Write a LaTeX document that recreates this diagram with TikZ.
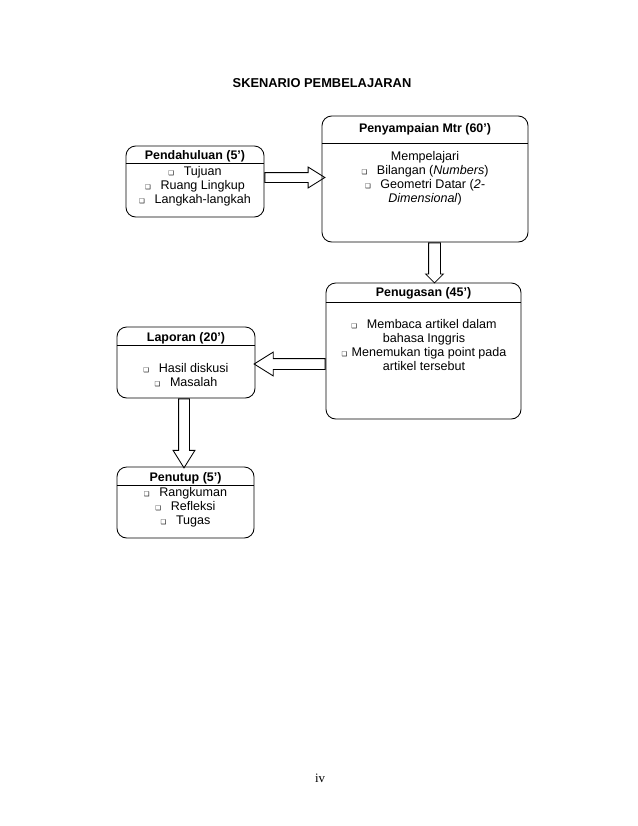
\documentclass[tikz,border=0pt]{standalone}
\usepackage{fontspec}
\setmainfont{Liberation Sans}
\newfontfamily\pagefont{Liberation Serif}
\newfontfamily\bulfont{DejaVu Sans}
\usetikzlibrary{shapes.arrows, calc, positioning}

\newcommand{\pu}{0.933pt}
\newcommand{\bul}{{\bulfont\fontsize{6}{6}\selectfont ❑}\hspace{9pt}}

\begin{document}
\begin{tikzpicture}[%
	x=\pu, y=\pu,
	every node/.style={font=\fontsize{11.7}{13}\selectfont},
	]
	% -------------------------------------------------
	% Box and arrow styles
	\tikzset{
		box/.style={draw, rounded corners=9pt, line width=0.8pt, inner sep=0pt},
		head/.style={font=\fontsize{11.6}{13}\selectfont\bfseries, inner sep=0pt},
		body/.style={align=center, inner sep=0pt},
		sep/.style={line width=0.8pt},
		barrow/.style={draw, single arrow, line width=0.8pt, inner sep=0pt,
			anchor=tail, single arrow tip angle=64},
	}
	\useasboundingbox (0,0) rectangle (638,-826);

	\node[font=\fontsize{12}{14}\selectfont\bfseries] (title) at (322,-83) {SKENARIO PEMBELAJARAN};

	% ------------------------------------------------- boxes
	\node[box, minimum width=138*\pu, minimum height=71*\pu]  (pend) at (195,-181.5) {};
	\node[box, minimum width=206*\pu, minimum height=126*\pu] (peny) at (425,-179) {};
	\node[box, minimum width=195*\pu, minimum height=136*\pu] (penu) at (423.5,-351) {};
	\node[box, minimum width=138*\pu, minimum height=71*\pu]  (lapo) at (186,-362.5) {};
	\node[box, minimum width=137*\pu, minimum height=71*\pu]  (penp) at (185.5,-502.5) {};

	\draw[sep] (pend.west |- 0,-163) -- (pend.east |- 0,-163);
	\draw[sep] (peny.west |- 0,-143) -- (peny.east |- 0,-143);
	\draw[sep] (penu.west |- 0,-302) -- (penu.east |- 0,-302);
	\draw[sep] (lapo.west |- 0,-345) -- (lapo.east |- 0,-345);
	\draw[sep] (penp.west |- 0,-485) -- (penp.east |- 0,-485);

	% ------------------------------------------------- texts
	\node[head] (pendh) at (195,-156) {Pendahuluan (5')};
	\node[body] (pendb) at (195,-186) {\bul Tujuan\\ \bul Ruang Lingkup\\ \bul Langkah-langkah};

	\node[head] (penyh) at (425,-129) {Penyampaian Mtr (60')};
	\node[body] (penyb) at (425,-178) {Mempelajari\\ \bul Bilangan (\textit{Numbers})\\
		\bul Geometri Datar (\textit{2-}\\ \textit{Dimensional})};

	\node[head] (penuh) at (423.5,-293) {Penugasan (45')};
	\node[body] (penub) at (424,-345) {\bul Membaca artikel dalam\\ bahasa Inggris\\
		{\bulfont\fontsize{6}{6}\selectfont ❑}\hspace{4pt}Menemukan tiga point pada\\ artikel tersebut};

	\node[head] (lapoh) at (186,-338) {Laporan (20')};
	\node[body] (lapob) at (186,-375.5) {\bul Hasil diskusi\\ \bul Masalah};

	\node[head] (penph) at (185.5,-478) {Penutup (5')};
	\node[body] (penpb) at (185.5,-507.5) {\bul Rangkuman\\ \bul Refleksi\\ \bul Tugas};

	% ------------------------------------------------- block arrows
	\node[barrow, minimum height=60*\pu, minimum width=20*\pu, inner ysep=4.5*\pu,
		single arrow head extend=5.5*\pu] (a1) at (pend.east |- 0,-177.5) {};
	\node[barrow, rotate=-90, minimum height=40*\pu, minimum width=17*\pu, inner ysep=5.5*\pu,
		single arrow head extend=3*\pu, single arrow tip angle=90] (a2) at (peny.south -| 434.5,0) {};
	\node[barrow, rotate=180, minimum height=71*\pu, minimum width=23*\pu, inner ysep=5*\pu,
		single arrow head extend=6.5*\pu] (a3) at (penu.west |- 0,-364) {};
	\node[barrow, rotate=-90, minimum height=69*\pu, minimum width=21*\pu, inner ysep=5*\pu,
		single arrow head extend=5.5*\pu] (a4) at (lapo.south -| 184,0) {};

	\node[font=\pagefont\fontsize{12}{14}\selectfont] (page) at (320,-778) {iv};
\end{tikzpicture}
\end{document}
